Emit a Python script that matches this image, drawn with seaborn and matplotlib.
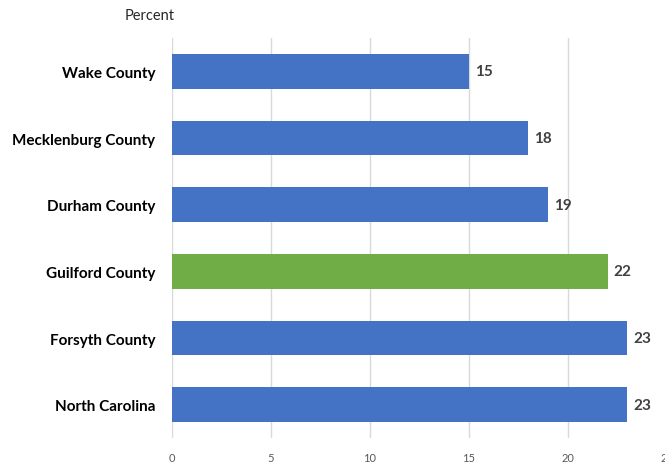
import matplotlib
matplotlib.use("Agg")
import matplotlib.pyplot as plt
import seaborn as sns
import pandas as pd

# data
counties = ["Wake County", "Mecklenburg County", "Durham County",
            "Guilford County", "Forsyth County", "North Carolina"]
percent = [15, 18, 19, 22, 23, 23]
bar_colors = ["#4472C4", "#4472C4", "#4472C4", "#70AD47", "#4472C4", "#4472C4"]
x_ticks = [0, 5, 10, 15, 20, 25]

df = pd.DataFrame({"county": counties, "percent": percent})

sns.set_theme(style="white")
plt.rcParams['font.family'] = ['Lato', 'DejaVu Sans']

fig = plt.figure(figsize=(6.65, 4.64), dpi=100)
ax = fig.add_axes([172 / 665, 25 / 464, 495 / 665, 400 / 464])

sns.barplot(data=df, y="county", x="percent", hue="county",
            palette=dict(zip(counties, bar_colors)), orient="h",
            width=0.52, saturation=1, linewidth=0, legend=False,
            ax=ax, zorder=3)

ax.set_xlim(0, 25)
ax.set_xticks(x_ticks)
ax.set_xticklabels([str(t) for t in x_ticks], fontsize=8, color="#595959")
ax.grid(axis="x", color="#D9D9D9", linewidth=1, zorder=0)
ax.set_axisbelow(True)
ax.tick_params(axis="both", length=0)
ax.tick_params(axis="x", pad=10)
ax.tick_params(axis="y", pad=12)
for lab in ax.get_yticklabels():
    lab.set_fontweight("bold")
    lab.set_fontsize(11)
    lab.set_color("black")
for s in ax.spines.values():
    s.set_visible(False)
ax.set_xlabel("")
ax.set_ylabel("")

for i, v in enumerate(percent):
    ax.text(v + 0.3, i, str(v), va="center", ha="left",
            fontsize=11, fontweight="bold", color="#404040")

fig.text(150 / 665, 1 - 16 / 464, "Percent", ha="center", va="center",
         fontsize=10.5, color="#262626")

fig.savefig("out.png", dpi=100)
